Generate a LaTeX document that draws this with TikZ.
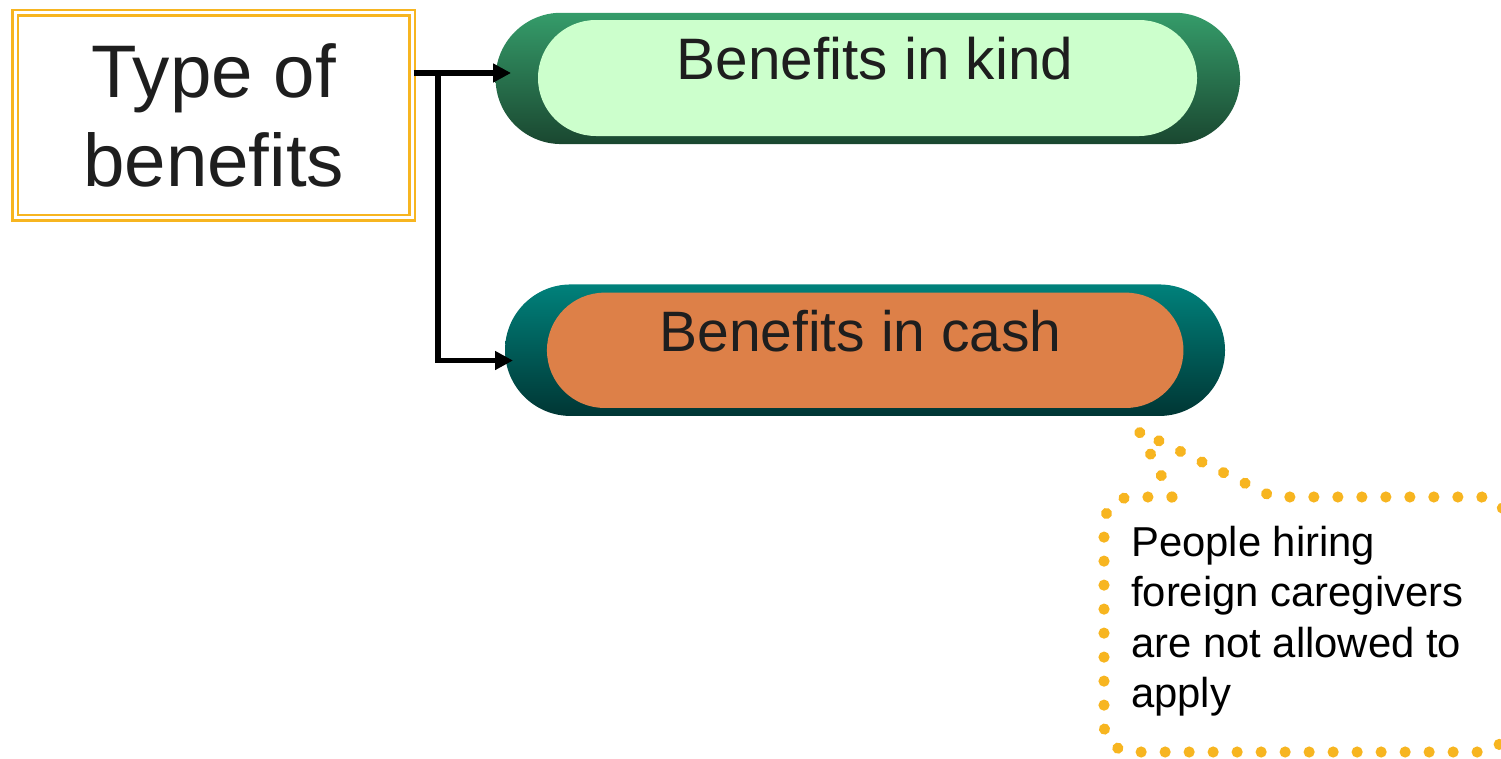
\documentclass[tikz,border=0pt]{standalone}
\usepackage{fontspec}
\setmainfont{Liberation Sans}
\usetikzlibrary{arrows.meta,calc,decorations.markings}

\definecolor{gold}{HTML}{F7B520}
\definecolor{kindtop}{HTML}{359C6A}
\definecolor{kindbot}{HTML}{1A4730}
\definecolor{kindfill}{HTML}{CCFFCC}
\definecolor{cashtop}{HTML}{00817B}
\definecolor{cashbot}{HTML}{003634}
\definecolor{cashfill}{HTML}{DD8048}
\definecolor{ink}{HTML}{1E1E1E}

\begin{document}
\begin{tikzpicture}[x=1pt,y=-1pt,
  typebox/.style={rectangle, draw=gold, double=white, double distance=3pt,
    line width=2.5pt, align=center, text=ink, inner sep=0pt},
  pill/.style={rectangle, inner sep=0pt, outer sep=0pt},
  caption/.style={text=ink, inner sep=0pt},
  conn/.style={line width=5.5pt, -{Triangle[length=18pt,width=18pt]}},
  dots/.style={decoration={markings,
      mark=between positions 0 and 1 step 24pt with
      {\fill[gold] (0,0) circle[radius=5.6pt];}},
    postaction=decorate}]

\useasboundingbox (0,0) rectangle (1501,758);

% root box
\node[typebox, minimum width=397.4pt, minimum height=205.1pt,
  font=\fontsize{74.5}{89}\selectfont] (type) at (213.7,115.4) {Type of\\benefits};

% benefits in kind
\node[pill, top color=kindtop, bottom color=kindbot,
  minimum width=744.5pt, minimum height=131.3pt, rounded corners=65.6pt]
  (kind) at (867.8,78.4) {};
\node[pill, fill=kindfill, minimum width=659pt, minimum height=116pt,
  rounded corners=57.9pt] (kindin) at (867.5,78) {};
\node[caption, font=\fontsize{58.5}{70}\selectfont, anchor=base]
  (kindtxt) at (875,79) {Benefits in kind};

% benefits in cash
\node[pill, top color=cashtop, bottom color=cashbot,
  minimum width=720pt, minimum height=131.5pt, rounded corners=65.7pt]
  (cash) at (865,350.2) {};
\node[pill, fill=cashfill, minimum width=636.5pt, minimum height=115.3pt,
  rounded corners=57.6pt] (cashin) at (865.2,350.3) {};
\node[caption, font=\fontsize{57}{68}\selectfont, anchor=base]
  (cashtxt) at (860.5,351) {Benefits in cash};

% connectors
\coordinate (kindtip) at ($(kind.west)+(15.5,-5.4)$);
\coordinate (cashtip) at ($(cash.west)+(8,10.3)$);
\coordinate (fork) at (438,73);
\draw[conn] (type.east |- kindtip) -- (kindtip);
\draw[conn] (fork) |- (cashtip);

% callout, outlined with a row of dots
\path[dots] (1172,497) -- (1139,431) -- (1273,497) -- (1480,497)
  arc[start angle=90, end angle=0, radius=28pt] -- (1508,724)
  arc[start angle=0, end angle=-90, radius=28pt] -- (1132,752)
  arc[start angle=270, end angle=180, radius=28pt] -- (1104,525)
  arc[start angle=180, end angle=90, radius=28pt] -- cycle;
\node[font=\fontsize{41.8}{50.5}\selectfont, align=left, anchor=north west,
  inner sep=0pt] (note) at (1131,525.5)
  {People hiring\\foreign caregivers\\are not allowed to\\apply};
\end{tikzpicture}
\end{document}
